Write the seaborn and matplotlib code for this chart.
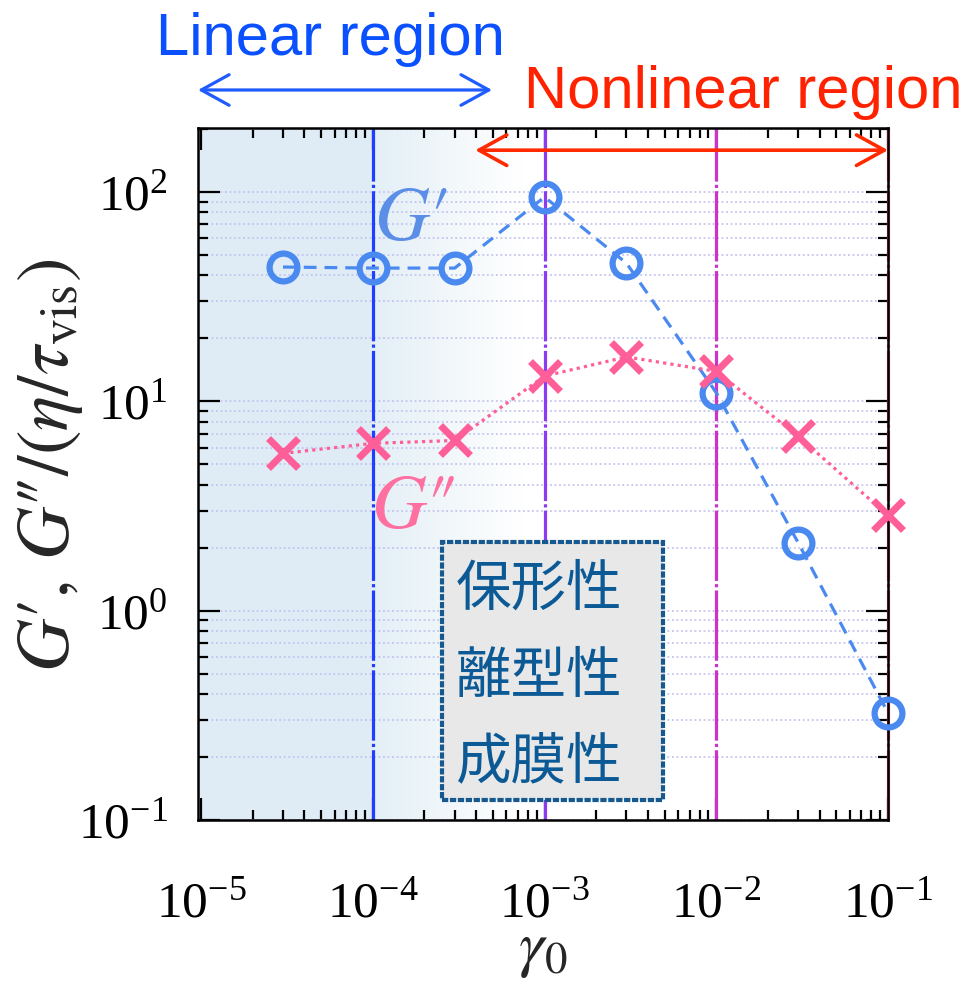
import numpy as np
import matplotlib
matplotlib.use("Agg")
import matplotlib.pyplot as plt
from matplotlib.ticker import LogLocator, NullFormatter, LogFormatterMathtext
from matplotlib.patches import Rectangle
import seaborn as sns

# strain amplitudes and normalised moduli
gamma0 = [3e-5, 1e-4, 3e-4, 1e-3, 3e-3, 1e-2, 3e-2, 1e-1]
g_storage = [43.8, 43.3, 43.3, 94.6, 45.7, 11.0, 2.11, 0.325]
g_loss = [5.64, 6.30, 6.50, 13.2, 16.3, 13.9, 6.81, 2.85]

# reference strains marked by vertical lines
marker_strains = [1e-4, 1e-3, 1e-2, 1e-1]
marker_colors = ["#1f3fff", "#8a3cf0", "#cc33c8", "#ff5c9c"]

# extent of the linear / nonlinear regions
linear_span = (9.6e-6, 4.95e-4)
nonlinear_span = (3.95e-4, 1e-1)

box_lines = ["保形性", "離型性", "成膜性"]

sns.set_theme(style="ticks")
plt.rcParams["font.family"] = ["Liberation Serif", "DejaVu Serif"]
plt.rcParams["mathtext.fontset"] = "stix"

fig = plt.figure(figsize=(9.74, 9.88), dpi=100)
ax = fig.add_axes([0.2033, 0.17, 0.7084, 0.7004])
ax.set_xscale("log")
ax.set_yscale("log")
ax.set_xlim(9.6e-6, 1e-1)
ax.set_ylim(1e-1, 202)

# pale blue shading that fades out across the linear region
n = 400
xf = np.linspace(0, 1, n)
t = np.where(xf < 0.25, 1.0, np.clip(0.9 * (0.47 - xf) / 0.22, 0, 1))
blue = np.array([0.878, 0.929, 0.961])
white = np.ones(3)
img = (white[None, :] * (1 - t[:, None]) + blue[None, :] * t[:, None])[None, :, :]
ax.imshow(img, extent=[0, 1, 0, 1], transform=ax.transAxes, aspect="auto",
          zorder=0, interpolation="bilinear")

# horizontal dotted grid
ax.yaxis.grid(True, which="both", color="#c4c4f0", linestyle=(0, (1, 1.5)), lw=1.3, zorder=1)
ax.xaxis.grid(False)

for xv, c in zip(marker_strains, marker_colors):
    ax.axvline(xv, color=c, lw=2.3, ls=(0, (22, 1, 1, 1)), zorder=2, clip_on=False)

sns.lineplot(x=gamma0, y=g_storage, ax=ax, color="#4a8af0", lw=2.3,
             linestyle=(0, (4, 2.5)), marker="o", markersize=20,
             markerfacecolor="none", markeredgecolor="#4a8af0",
             markeredgewidth=4.5, zorder=4, clip_on=False)
sns.lineplot(x=gamma0, y=g_loss, ax=ax, color="#ff5f99", lw=2.3,
             linestyle=(0, (1, 1.3)), marker="x", markersize=22,
             markeredgecolor="#ff5f99", markeredgewidth=5, zorder=4, clip_on=False)

# ticks
ax.xaxis.set_major_locator(LogLocator(base=10, numticks=10))
ax.yaxis.set_major_locator(LogLocator(base=10, numticks=10))
ax.xaxis.set_minor_locator(LogLocator(base=10, subs=np.arange(2, 10), numticks=20))
ax.yaxis.set_minor_locator(LogLocator(base=10, subs=np.arange(2, 10), numticks=20))
ax.xaxis.set_minor_formatter(NullFormatter())
ax.yaxis.set_minor_formatter(NullFormatter())
ax.xaxis.set_major_formatter(LogFormatterMathtext())
ax.yaxis.set_major_formatter(LogFormatterMathtext())
ax.tick_params(which="both", direction="in", top=True, right=True, colors="black", width=1.6)
ax.tick_params(which="major", length=16)
ax.tick_params(which="minor", length=7)
ax.tick_params(axis="x", which="major", labelsize=37, pad=44)
ax.tick_params(axis="y", which="major", labelsize=37, pad=22)
for s in ax.spines.values():
    s.set_linewidth(1.8)
    s.set_color("black")

ax.set_xlabel(r"$\gamma_0$", fontsize=46, labelpad=-4)
ax.set_ylabel(r"$G′,\, G″/(\eta/\tau_{\rm vis})$", fontsize=53)
ax.yaxis.set_label_coords(-0.164, 0.513)

# series labels
ax.text(0.255, 0.838, r"$G′$", transform=ax.transAxes, fontsize=55,
        color="#5b8ee6", va="baseline", ha="left", zorder=5)
ax.text(0.25, 0.422, r"$G″$", transform=ax.transAxes, fontsize=55,
        color="#ff6fa0", va="baseline", ha="left", zorder=5)

# region arrows
xt = ax.get_xaxis_transform()
ax.annotate("", xy=(linear_span[0], 1.055), xytext=(linear_span[1], 1.055),
            xycoords=xt, textcoords=xt, annotation_clip=False,
            arrowprops=dict(arrowstyle="<->,head_length=1.0,head_width=0.55",
                            mutation_scale=20, color="#1f5cff", lw=2.3,
                            shrinkA=0, shrinkB=0))
ax.annotate("", xy=(nonlinear_span[0], 0.968), xytext=(nonlinear_span[1], 0.968),
            xycoords=xt, textcoords=xt, annotation_clip=False,
            arrowprops=dict(arrowstyle="<->,head_length=1.0,head_width=0.55",
                            mutation_scale=20, color="#ff2a00", lw=2.6,
                            shrinkA=0, shrinkB=0), zorder=5)
fig.text(0.339, 0.944, "Linear region", fontsize=43, color="#0a50ff",
         family=["Liberation Sans", "DejaVu Sans"], ha="center", va="baseline")
fig.text(0.763, 0.891, "Nonlinear region", fontsize=43, color="#ff2200",
         family=["Liberation Sans", "DejaVu Sans"], ha="center", va="baseline")

# property box
ax.add_patch(Rectangle((0.3536, 0.0289), 0.3203, 0.3728, transform=ax.transAxes,
                       facecolor="#e8e8e8", edgecolor="#17598f", lw=3,
                       ls=(0, (1.5, 0.4)), zorder=6))
for yy, line in zip([0.3324, 0.2066, 0.0838], box_lines):
    ax.text(0.374, yy, line, transform=ax.transAxes, fontsize=40, color="#0b5a96",
            family=["Noto Sans CJK JP", "DejaVu Sans"], ha="left", va="center", zorder=7)

fig.savefig("out.png", dpi=100)
